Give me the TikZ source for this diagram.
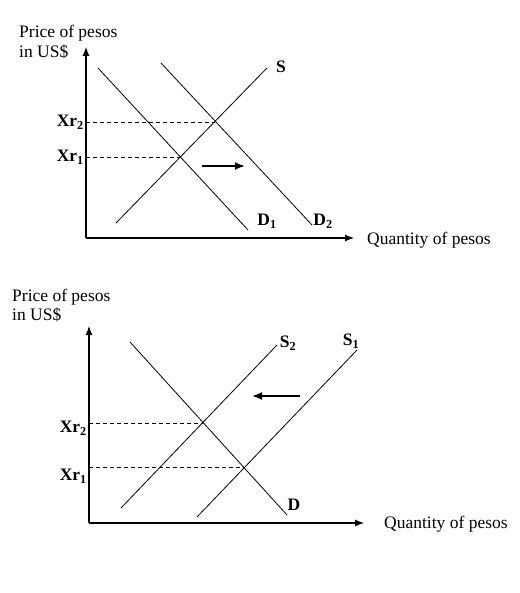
\documentclass[tikz,border=0pt]{standalone}
\usepackage{fontspec}
\setmainfont{Liberation Serif}
\usetikzlibrary{arrows.meta}
\begin{document}
\begin{tikzpicture}[x=1pt, y=-1pt,
    every node/.style={font=\fontsize{17.5}{19}\selectfont, inner sep=1pt},
    curve/.style={line width=0.8pt},
    axis/.style={line width=1.1pt, -{Latex[length=9pt,width=7pt]}},
    level/.style={line width=0.8pt, dash pattern=on 4pt off 3pt},
    move/.style={line width=1.8pt, -{Latex[length=10pt,width=8pt]}},
    lbl/.style={font=\fontsize{17.5}{19}\selectfont\bfseries}]
  \useasboundingbox (0,0) rectangle (519,593);
  % Top diagram: demand shifts right
  \coordinate (O1) at (86,238);
  \coordinate (Y1) at (86,47);
  \coordinate (X1) at (354,238);
  \draw[axis] (O1) -- (Y1);
  \draw[axis] (O1) -- (X1);
  \node[anchor=west] (price1) at (18,33) {Price of pesos};
  \node[anchor=west] (unit1) at (18,52) {in US\$};
  \node[anchor=west] (qty1) at (366,240) {Quantity of pesos};
  \coordinate (d1a) at (98,68);
  \coordinate (d1b) at (248,230);
  \coordinate (d2a) at (161,63);
  \coordinate (d2b) at (312,225);
  \coordinate (sa) at (116,223);
  \coordinate (sb) at (267,68);
  \draw[curve] (d1a) -- (d1b);
  \draw[curve] (d2a) -- (d2b);
  \draw[curve] (sa) -- (sb);
  \node[lbl] (S) at (281,67) {S};
  \node[lbl] (D1) at (267,221) {D\textsubscript{1}};
  \node[lbl] (D2) at (323,221) {D\textsubscript{2}};
  % Equilibria
  \coordinate (e1) at (180,157);
  \coordinate (e2) at (215,122);
  \draw[level] (e1 -| O1) -- (e1);
  \draw[level] (e2 -| O1) -- (e2);
  \node[lbl, anchor=east] (xr1) at (85,157) {Xr\textsubscript{1}};
  \node[lbl, anchor=east] (xr2) at (85,122) {Xr\textsubscript{2}};
  \coordinate (t1a) at (202,166);
  \coordinate (t1b) at (245,166);
  \draw[move] (t1a) -- (t1b);

  % Bottom diagram: supply shifts left
  \coordinate (O2) at (89,523);
  \coordinate (Y2) at (89,326);
  \coordinate (X2) at (364,523);
  \draw[axis] (O2) -- (Y2);
  \draw[axis] (O2) -- (X2);
  \node[anchor=west] (price2) at (11,297) {Price of pesos};
  \node[anchor=west] (unit2) at (11,315) {in US\$};
  \node[anchor=west] (qty2) at (383,524) {Quantity of pesos};
  \coordinate (da) at (130,342);
  \coordinate (db) at (287,515);
  \coordinate (s2a) at (121,508);
  \coordinate (s2b) at (277,345);
  \coordinate (s1a) at (197,517);
  \coordinate (s1b) at (357,350);
  \draw[curve] (da) -- (db);
  \draw[curve] (s2a) -- (s2b);
  \draw[curve] (s1a) -- (s1b);
  \node[lbl] (S2) at (288,343) {S\textsubscript{2}};
  \node[lbl] (S1) at (351,341) {S\textsubscript{1}};
  \node[lbl] (D) at (294,505) {D};
  % Equilibria
  \coordinate (e3) at (203,423);
  \coordinate (e4) at (244,467);
  \draw[level] (e3 -| O2) -- (e3);
  \draw[level] (e4 -| O2) -- (e4);
  \node[lbl, anchor=east] (xr2b) at (88,428) {Xr\textsubscript{2}};
  \node[lbl, anchor=east] (xr1b) at (88,476) {Xr\textsubscript{1}};
  \coordinate (t2a) at (300,396);
  \coordinate (t2b) at (252,396);
  \draw[move] (t2a) -- (t2b);
\end{tikzpicture}
\end{document}
